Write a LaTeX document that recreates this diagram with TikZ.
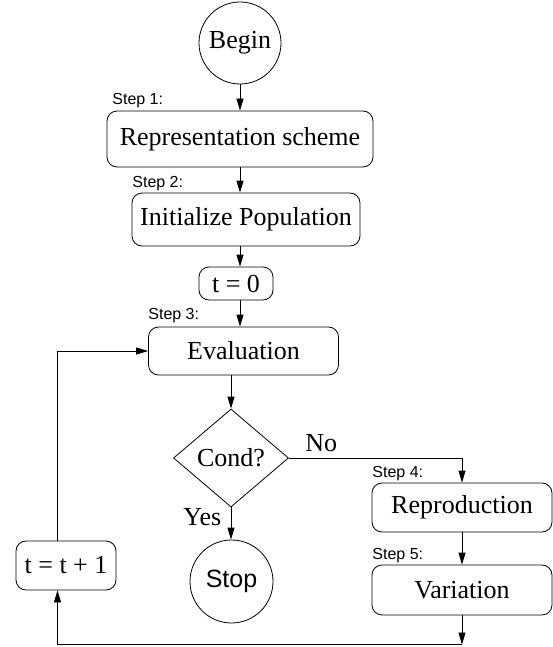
\documentclass[tikz,border=0pt]{standalone}
\usepackage{fontspec}
\setmainfont{Liberation Serif}
\newfontfamily\stepfont{Liberation Sans}
\usetikzlibrary{arrows.meta,shapes.geometric}
\begin{document}
\begin{tikzpicture}[x=1pt,y=-1pt,
  line width=0.8pt,
  arr/.style={-{Triangle[length=12pt,width=7pt]}},
  base/.style={inner sep=0pt,font=\fontsize{26}{30}\selectfont},
  box/.style={base,draw,rounded corners=10pt,rectangle},
  circ/.style={base,draw,circle},
  steplbl/.style={inner sep=0pt,anchor=base west,font=\stepfont\fontsize{16}{18}\selectfont},
  lbl/.style={inner sep=0pt,anchor=base west,font=\fontsize{26}{30}\selectfont}]
\useasboundingbox (0,0) rectangle (553,647);

\node[circ,minimum size=82pt] (begin) at (240,43) {Begin};
\node[box,minimum width=266pt,minimum height=56pt] (rep) at (240,139) {Representation scheme};
\node[box,minimum width=228pt,minimum height=53pt] (init) at (246,219.5) {Initialize Population};
\node[box,minimum width=74pt,minimum height=33pt] (t0) at (236,283.5) {t = 0};
\node[box,minimum width=190pt,minimum height=48pt] (eval) at (243.5,351) {Evaluation};
\node[base,draw,diamond,minimum width=115pt,minimum height=98pt] (cond) at (231,458) {Cond?};
\node[circ,minimum size=83pt,font=\stepfont\fontsize{25}{30}\selectfont] (stop) at (231.5,581.5) {Stop};
\node[box,minimum width=180pt,minimum height=49pt] (repro) at (462,507.5) {Reproduction};
\node[box,minimum width=180pt,minimum height=50pt] (var) at (462,590) {Variation};
\node[box,minimum width=100pt,minimum height=49pt] (tt) at (66,565.5) {t = t + 1};

\node[steplbl] (s1) at (112,105) {Step 1:};
\node[steplbl] (s2) at (132,187) {Step 2:};
\node[steplbl] (s3) at (148,319) {Step 3:};
\node[steplbl] (s4) at (372,477) {Step 4:};
\node[steplbl] (s5) at (372,559) {Step 5:};
\node[lbl] (no) at (305,451) {No};
\node[lbl] (yes) at (183,525) {Yes};

\coordinate (br) at (462,644.5);
\coordinate (bl) at (57.5,644.5);

\draw[arr] (begin) -- (rep);
\draw[arr] (rep.south) -- (rep.south |- init.north);
\draw[arr] (rep.south |- init.south) -- (rep.south |- t0.north);
\draw[arr] (rep.south |- t0.south) -- (rep.south |- eval.north);
\draw[arr] (cond.north |- eval.south) -- (cond.north);
\draw[arr] (cond.south) -- (cond.south |- stop.north);
\draw[arr] (cond.east) -| (repro.north);
\draw[arr] (repro) -- (var);
\draw[arr] (var.south) -- (br);
\draw[arr] (br) -- (bl) -- (bl |- tt.south);
\draw[arr] (bl |- tt.north) -- (bl |- eval.west) -- (eval.west);
\end{tikzpicture}
\end{document}
